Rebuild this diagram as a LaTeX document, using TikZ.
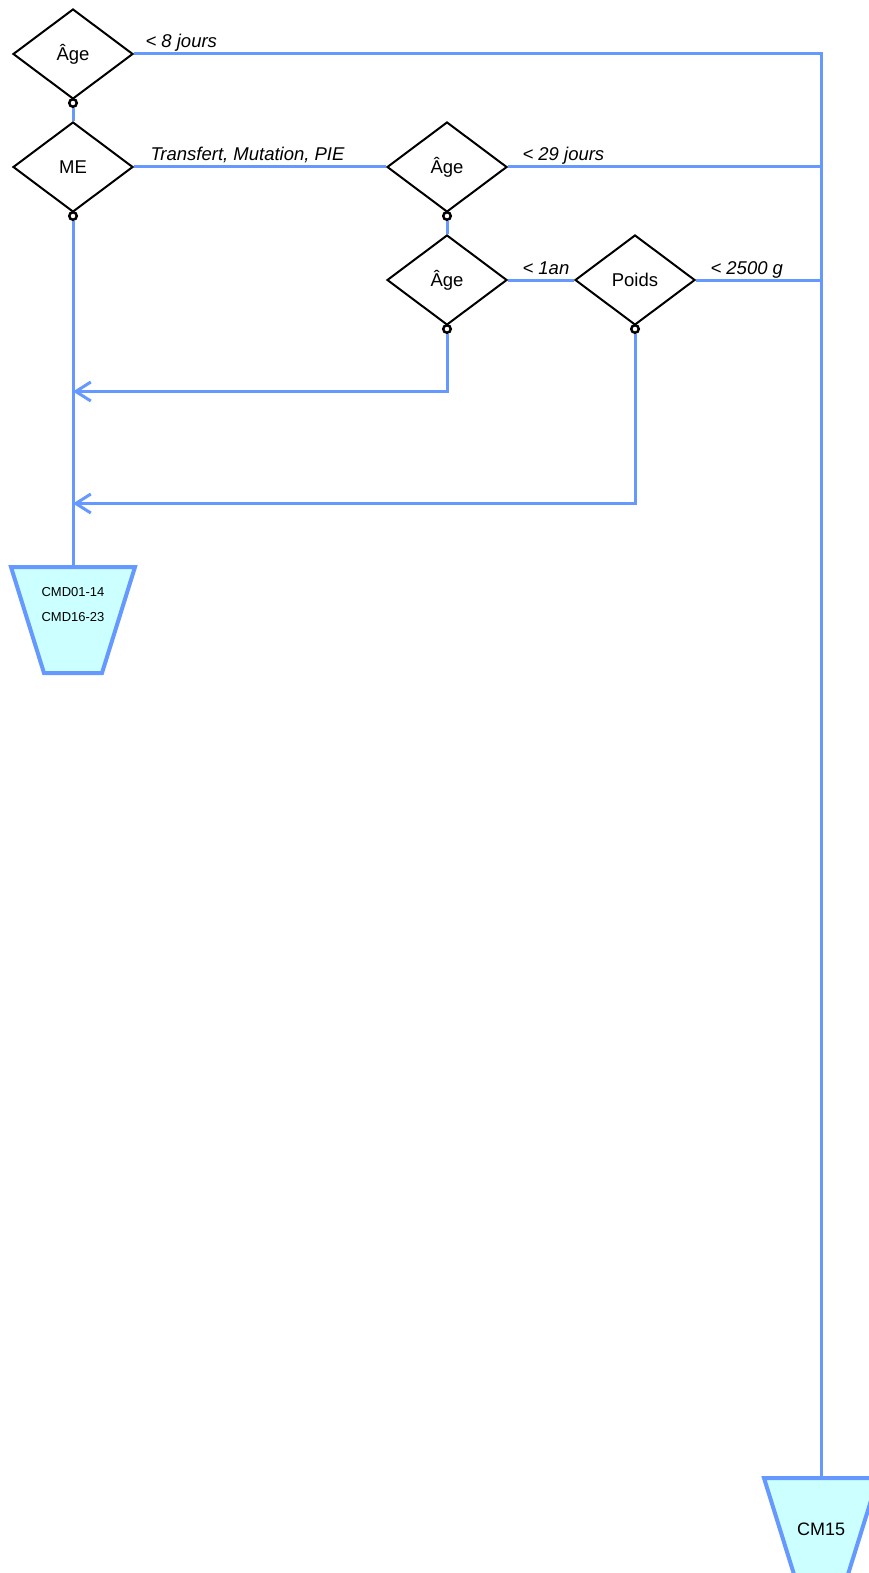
\documentclass[tikz,border=0pt]{standalone}
\usepackage{fontspec}
\setmainfont{Liberation Sans}
\usetikzlibrary{shapes.geometric,arrows.meta}
\definecolor{flowblue}{RGB}{102,153,255}
\definecolor{leafcyan}{RGB}{204,255,255}
\tikzset{
  baseline = (current bounding box.center),
}

\begin{document}
\begin{tikzpicture}[
      x=1pt, y=-1pt,
      test/.style={diamond, draw=black, line width=2pt, minimum width=120pt, minimum height=90pt, inner sep=0pt, font=\fontsize{18.5}{22}\selectfont},
      port/.style={circle, draw=black, fill=white, line width=2.5pt, minimum size=7.5pt, inner sep=0pt, anchor=north, yshift=2pt},
      flow/.style={draw=flowblue, line width=3pt},
      back/.style={flow, -{Straight Barb[length=15pt,width=19pt]}},
      cond/.style={anchor=base west, inner sep=0pt, xshift=13pt, yshift=6pt, font=\fontsize{18.5}{22}\selectfont\itshape},
      leaf/.style={trapezium, shape border rotate=180, trapezium angle=72.7, draw=flowblue, line width=4pt, fill=leafcyan, inner sep=0pt, align=center}
      ]
      \useasboundingbox (0,0) rectangle (869,1573);
      \node[test] (age1) at (73,54) {Âge};
      \node[test] (me) at (73,167) {ME};
      \node[test] (age2) at (447,167) {Âge};
      \node[test] (age3) at (447,280) {Âge};
      \node[test] (poids) at (635,280) {Poids};
      \node[leaf, text width=58pt, text height=53pt, text depth=53pt] (cmd) at (73,620) {};
      \node[align=center, font=\fontsize{13}{24.5}\selectfont] (cmdtext) at (73,604.5) {CMD01-14\\CMD16-23};
      \node[leaf, text width=48pt, text height=57pt, text depth=49pt, font=\fontsize{18}{22}\selectfont] (cm15) at (821,1531) {CM15};
      \coordinate (m1) at (73,391.5);
      \coordinate (m2) at (73,503.5);
      \draw[flow] (age1.east) -| node[cond, pos=0, xshift=-3pt] {< 8 jours} (cm15.north);
      \draw[flow] (me.east) -- node[cond, pos=0, xshift=2pt] {Transfert, Mutation, PIE} (age2.west);
      \draw[flow] (age2.east) -- node[cond, pos=0] {< 29 jours} (age2.east -| cm15.north);
      \draw[flow] (age3.east) -- node[cond, pos=0] {< 1an} (poids.west);
      \draw[flow] (poids.east) -- node[cond, pos=0] {< 2500 g} (poids.east -| cm15.north);
      \node[port] (p1) at (age1.south) {};
      \node[port] (p2) at (me.south) {};
      \node[port] (p3) at (age2.south) {};
      \node[port] (p4) at (age3.south) {};
      \node[port] (p5) at (poids.south) {};
      \draw[flow] (p1.south) -- (me.north);
      \draw[flow] (p3.south) -- (age3.north);
      \draw[flow] (p2.south) -- (cmd.north);
      \draw[back] (p4.south) |- (m1);
      \draw[back] (p5.south) |- (m2);
    \end{tikzpicture}
\end{document}
